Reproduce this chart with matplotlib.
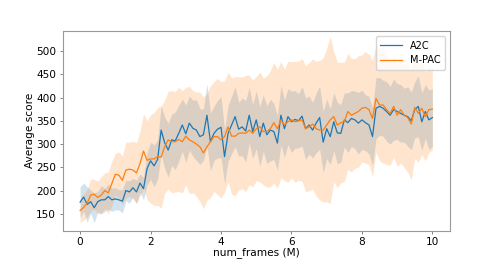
import matplotlib.pyplot as plt
import numpy as np

# x grid: 101 evaluation points, 0..10 M frames
num_frames = np.round(np.arange(101) * 0.1, 1)

a2c_mean = [175, 186, 170, 176, 163, 176, 180, 180, 187, 180,
            182, 180, 177, 200, 197, 206, 197, 216, 204, 247,
            264, 253, 267, 330, 303, 287, 309, 307, 323, 341,
            322, 345, 334, 330, 316, 320, 362, 305, 323, 332,
            336, 273, 323, 341, 359, 332, 337, 328, 362, 327,
            352, 316, 345, 320, 330, 327, 302, 362, 333, 359,
            348, 353, 350, 360, 333, 341, 330, 345, 357, 304,
            333, 316, 348, 324, 323, 352, 346, 355, 352, 345,
            352, 346, 341, 316, 377, 381, 377, 370, 362, 374,
            370, 366, 362, 359, 350, 374, 381, 348, 370, 352,
            357]
a2c_std = [33, 30, 38, 25, 32, 22, 30, 25, 27, 25,
           24, 22, 25, 22, 24, 20, 25, 20, 24, 35,
           40, 45, 42, 52, 55, 58, 55, 62, 60, 56,
           62, 58, 60, 65, 60, 55, 68, 62, 58, 62,
           66, 58, 60, 62, 64, 58, 62, 66, 60, 58,
           62, 64, 60, 62, 66, 60, 58, 64, 62, 60,
           66, 62, 58, 64, 66, 62, 60, 64, 68, 66,
           64, 60, 62, 66, 62, 58, 64, 60, 62, 66,
           64, 60, 62, 62, 66, 62, 60, 64, 62, 66,
           60, 62, 58, 64, 62, 60, 66, 62, 58, 64,
           62]

mpac_mean = [157, 164, 173, 190, 192, 185, 190, 200, 195, 215,
             235, 233, 222, 244, 246, 244, 238, 258, 285, 265,
             268, 268, 273, 272, 294, 309, 305, 305, 310, 305,
             317, 309, 305, 300, 294, 281, 294, 305, 316, 316,
             309, 316, 337, 317, 317, 323, 324, 323, 330, 323,
             333, 337, 327, 327, 333, 346, 333, 352, 341, 348,
             352, 348, 350, 352, 333, 337, 343, 333, 330, 330,
             341, 352, 359, 341, 346, 348, 370, 362, 366, 370,
             377, 379, 374, 355, 398, 384, 384, 374, 366, 381,
             362, 374, 362, 357, 343, 379, 366, 377, 359, 374,
             375]
mpac_std = [25, 28, 30, 35, 32, 35, 40, 38, 45, 48,
            45, 50, 52, 60, 58, 62, 65, 70, 80, 85,
            95, 100, 105, 110, 100, 105, 110, 108, 112, 110,
            105, 115, 110, 112, 118, 120, 115, 120, 118, 125,
            125, 120, 118, 125, 128, 122, 120, 125, 118, 115,
            112, 118, 115, 120, 125, 130, 128, 125, 120, 130,
            125, 130, 128, 132, 135, 138, 140, 145, 150, 155,
            165, 180, 140, 135, 130, 128, 125, 122, 118, 120,
            115, 120, 118, 125, 115, 120, 125, 118, 112, 110,
            110, 115, 112, 118, 120, 110, 105, 100, 95, 92,
            88]

series = [("A2C", a2c_mean, a2c_std, "tab:blue"),
          ("M-PAC", mpac_mean, mpac_std, "tab:orange")]

plt.rcParams['font.size'] = 7.6
fig = plt.figure(figsize=(5, 2.59), dpi=100)
ax = fig.add_axes([0.125, 0.11, 0.775, 0.77])

for name, mean, std, col in series:
    m = np.array(mean, dtype=float)
    s = np.array(std, dtype=float)
    ax.fill_between(num_frames, m - s, m + s, color=col, alpha=0.2, linewidth=0)
for name, mean, std, col in series:
    ax.plot(num_frames, mean, color=col, linewidth=0.9, label=name, zorder=3)

ax.set_xlim(-0.5, 10.5)
ax.set_ylim(114, 543)
ax.set_xticks([0, 2, 4, 6, 8, 10])
ax.set_yticks([150, 200, 250, 300, 350, 400, 450, 500])
ax.set_xlabel("num_frames (M)", labelpad=0)
ax.set_ylabel("Average score", labelpad=1)
ax.tick_params(length=2.5, width=0.5, pad=2, color='#555555')
for sp in ax.spines.values():
    sp.set_color('#999999')
    sp.set_linewidth(0.8)
ax.legend(loc='upper right', fontsize=7, handlelength=2.2, borderpad=0.5,
          labelspacing=0.45, handletextpad=0.8)

plt.savefig("out.png", dpi=100)
